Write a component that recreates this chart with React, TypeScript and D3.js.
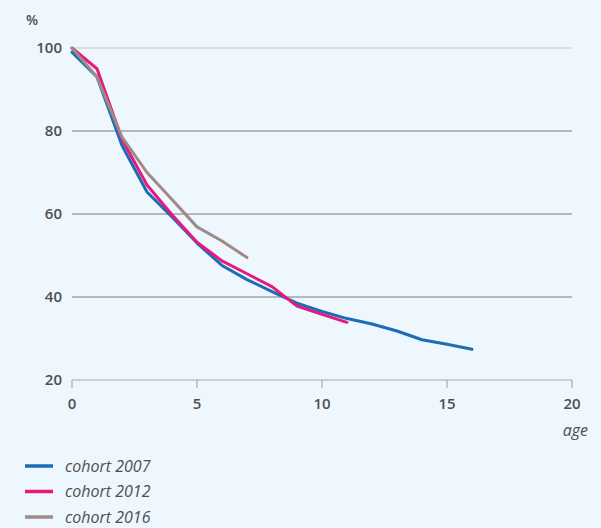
import React from "react";
import * as d3 from "d3";

const ages2007 = [0, 1, 2, 3, 4, 5, 6, 7, 8, 9, 10, 11, 12, 13, 14, 15, 16];
const cohort2007 = [99, 93, 76.5, 65.3, 59.3, 53, 47.6, 44.2, 41.3, 38.5, 36.5, 34.8, 33.5, 31.8, 29.7, 28.6, 27.4];
const ages2012 = [0, 1, 2, 3, 4, 5, 6, 7, 8, 9, 10, 11];
const cohort2012 = [100, 95, 78, 67, 59.8, 53.2, 48.7, 45.6, 42.5, 37.8, 35.8, 33.9];
const ages2016 = [0, 1, 2, 3, 4, 5, 6, 7];
const cohort2016 = [100, 93, 78.5, 70, 63.5, 56.9, 53.5, 49.5];

const xTicks = [0, 5, 10, 15, 20];
const yTicks = [20, 40, 60, 80, 100];
const seriesNames = ["cohort 2007", "cohort 2012", "cohort 2016"];
const colors = ["#1b6db5", "#e8187c", "#9f8b86"];

export default function App() {
  const W = 601, H = 528;
  const x = d3.scaleLinear().domain([0, 20]).range([72, 572]);
  const y = d3.scaleLinear().domain([20, 100]).range([380, 48]);
  const line = d3.line<[number, number]>().x(d => x(d[0])).y(d => y(d[1]));
  const series = [
    ages2007.map((a, i) => [a, cohort2007[i]] as [number, number]),
    ages2012.map((a, i) => [a, cohort2012[i]] as [number, number]),
    ages2016.map((a, i) => [a, cohort2016[i]] as [number, number]),
  ];
  const font = "'Open Sans', sans-serif";
  const textColor = "#4f4f4f";
  return (
    <div style={{ position: "fixed", left: 0, top: 0 }}>
      <svg width={W} height={H} style={{ display: "block" }}>
        <rect x={0} y={0} width={W} height={H} fill="#eef7fe" />
        {yTicks.map(t => (
          <g key={t}>
            {t !== 20 && (
              <line x1={x(0)} x2={x(20)} y1={y(t)} y2={y(t)}
                stroke={t === 100 ? "#d8dee2" : "#b5b8ba"} strokeWidth={2} />
            )}
            <text x={62} y={y(t)} dy="0.35em" textAnchor="end" fontFamily={font}
              fontSize={15} fontWeight={600} fill={textColor}>{t}</text>
          </g>
        ))}
        <line x1={x(0)} x2={x(20)} y1={y(20)} y2={y(20)} stroke="#c9cfd3" strokeWidth={2} />
        {xTicks.map(t => (
          <g key={t}>
            <line x1={x(t)} x2={x(t)} y1={y(20)} y2={y(20) + 8} stroke="#b5b8ba" strokeWidth={1.5} />
            <text x={x(t)} y={409} textAnchor="middle" fontFamily={font}
              fontSize={15} fontWeight={600} fill={textColor}>{t}</text>
          </g>
        ))}
        <text x={26} y={25} fontFamily={font} fontSize={14} fontWeight={600} fill={textColor}>%</text>
        <text x={588} y={436} textAnchor="end" fontFamily={font} fontStyle="italic"
          fontSize={16} fill={textColor}>age</text>
        {series.map((s, i) => (
          <path key={i} d={line(s) || ""} fill="none" stroke={colors[i]}
            strokeWidth={3} strokeLinejoin="round" strokeLinecap="round" />
        ))}
        {seriesNames.map((n, i) => (
          <g key={n} transform={`translate(0, ${466 + i * 25.5})`}>
            <line x1={25} x2={53} y1={0} y2={0} stroke={colors[i]} strokeWidth={3.5} />
            <text x={65} y={0} dy="0.35em" fontFamily={font} fontStyle="italic"
              fontSize={16} fill={textColor}>{n}</text>
          </g>
        ))}
      </svg>
    </div>
  );
}
